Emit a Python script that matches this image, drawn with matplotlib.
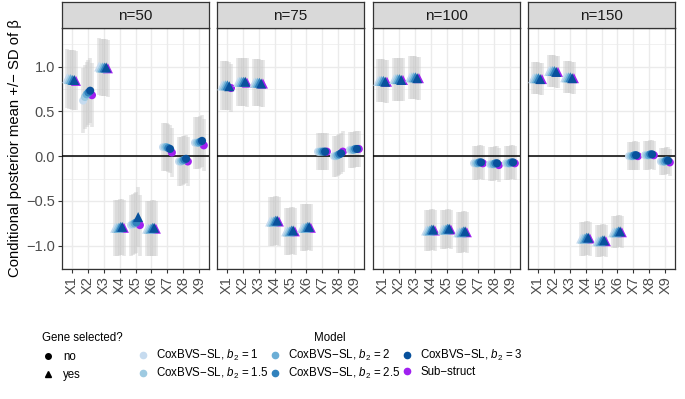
import matplotlib.pyplot as plt
import numpy as np
from matplotlib.lines import Line2D

plt.rcParams['font.family'] = ['Liberation Sans', 'DejaVu Sans']
plt.rcParams['mathtext.fontset'] = 'custom'
plt.rcParams['mathtext.rm'] = 'Liberation Sans'
plt.rcParams['mathtext.it'] = 'Liberation Sans:italic'

variables = ['X1', 'X2', 'X3', 'X4', 'X5', 'X6', 'X7', 'X8', 'X9']
sample_sizes = ['n=50', 'n=75', 'n=100', 'n=150']
models = ['CoxBVS\u2212SL, $b_2$ = 1', 'CoxBVS\u2212SL, $b_2$ = 1.5',
          'CoxBVS\u2212SL, $b_2$ = 2', 'CoxBVS\u2212SL, $b_2$ = 2.5',
          'CoxBVS\u2212SL, $b_2$ = 3', 'Sub\u2212struct']
model_colors = ['#c6dbef', '#9ecae1', '#6baed6', '#3182bd', '#08519c', '#a020f0']

# posterior means: rows = X1..X9, cols = models
mean_n50 = [
    [0.87, 0.86, 0.86, 0.85, 0.85, 0.84],
    [0.62, 0.66, 0.69, 0.71, 0.73, 0.68],
    [1.00, 0.99, 0.99, 0.99, 0.99, 0.98],
    [-0.80, -0.80, -0.80, -0.79, -0.79, -0.80],
    [-0.77, -0.76, -0.75, -0.74, -0.68, -0.77],
    [-0.81, -0.81, -0.81, -0.80, -0.80, -0.81],
    [0.10, 0.10, 0.10, 0.09, 0.08, 0.04],
    [-0.06, -0.06, -0.05, -0.04, -0.03, -0.06],
    [0.15, 0.15, 0.15, 0.16, 0.17, 0.12],
]
mean_n75 = [
    [0.79, 0.79, 0.79, 0.79, 0.78, 0.76],
    [0.83, 0.83, 0.83, 0.83, 0.83, 0.82],
    [0.82, 0.82, 0.82, 0.82, 0.81, 0.81],
    [-0.73, -0.73, -0.73, -0.72, -0.72, -0.73],
    [-0.84, -0.84, -0.84, -0.83, -0.83, -0.84],
    [-0.80, -0.80, -0.80, -0.79, -0.79, -0.80],
    [0.05, 0.05, 0.05, 0.05, 0.05, 0.05],
    [0.00, 0.00, 0.01, 0.02, 0.03, 0.05],
    [0.07, 0.07, 0.07, 0.08, 0.08, 0.08],
]
mean_n100 = [
    [0.84, 0.84, 0.84, 0.84, 0.83, 0.83],
    [0.86, 0.86, 0.86, 0.86, 0.85, 0.85],
    [0.88, 0.88, 0.88, 0.88, 0.87, 0.87],
    [-0.83, -0.83, -0.83, -0.82, -0.82, -0.83],
    [-0.82, -0.82, -0.82, -0.81, -0.81, -0.82],
    [-0.85, -0.85, -0.85, -0.84, -0.84, -0.85],
    [-0.08, -0.08, -0.08, -0.07, -0.07, -0.08],
    [-0.09, -0.09, -0.09, -0.08, -0.08, -0.10],
    [-0.08, -0.08, -0.08, -0.07, -0.07, -0.08],
]
mean_n150 = [
    [0.87, 0.87, 0.87, 0.87, 0.86, 0.86],
    [0.95, 0.95, 0.95, 0.95, 0.94, 0.94],
    [0.88, 0.88, 0.88, 0.88, 0.87, 0.87],
    [-0.92, -0.92, -0.92, -0.91, -0.91, -0.92],
    [-0.95, -0.95, -0.95, -0.94, -0.94, -0.95],
    [-0.85, -0.85, -0.85, -0.84, -0.84, -0.85],
    [0.00, 0.00, 0.00, 0.01, 0.01, 0.00],
    [0.01, 0.01, 0.01, 0.02, 0.02, 0.01],
    [-0.06, -0.06, -0.06, -0.05, -0.05, -0.07],
]

# posterior SD per variable
sd_n50 = [0.33, 0.36, 0.32, 0.31, 0.34, 0.31, 0.27, 0.27, 0.29]
sd_n75 = [0.27, 0.27, 0.26, 0.27, 0.26, 0.26, 0.21, 0.23, 0.20]
sd_n100 = [0.24, 0.24, 0.24, 0.23, 0.22, 0.23, 0.19, 0.19, 0.19]
sd_n150 = [0.18, 0.18, 0.18, 0.19, 0.18, 0.18, 0.16, 0.16, 0.15]

# gene selected? (1 = yes) per variable, per model
sel_n50 = ['111111', '000000', '111111', '111111', '000010', '111111', '000000', '000000', '000000']
sel_n75 = ['111110', '111111', '111111', '111111', '111111', '111111', '000000', '000000', '000000']
sel_n100 = ['111111', '111111', '111111', '111111', '111111', '111111', '000000', '000000', '000000']
sel_n150 = ['111111', '111111', '111111', '111111', '111111', '111111', '000000', '000000', '000000']

means = [mean_n50, mean_n75, mean_n100, mean_n150]
sds = [sd_n50, sd_n75, sd_n100, sd_n150]
sels = [sel_n50, sel_n75, sel_n100, sel_n150]

W, H = 685, 399
fig = plt.figure(figsize=(W / 100, H / 100), dpi=100)

panel_left = [62, 217, 373, 528]
panel_w = 147
top, bottom = 28, 269
x = np.arange(1, len(variables) + 1)
offsets = (np.arange(len(models)) - 2.5) * 0.11
# sub-struct points sit underneath the CoxBVS-SL ones
draw_z = [5, 6, 7, 8, 9, 4]

for p in range(4):
    ax = fig.add_axes([panel_left[p] / W, (H - bottom) / H, panel_w / W, (bottom - top) / H])
    m = np.array(means[p])
    sd = np.array(sds[p])
    for j in range(len(models)):
        xs = x + offsets[j]
        ax.vlines(xs, m[:, j] - sd, m[:, j] + sd, color='#c8c8c8', alpha=0.45,
                  lw=2.6, zorder=2)
    ax.axhline(0, color='black', lw=1.1, zorder=3)
    for j in range(len(models)):
        xs = x + offsets[j]
        sel = np.array([s[j] == '1' for s in sels[p]])
        ax.scatter(xs[~sel], m[~sel, j], marker='o', s=34, color=model_colors[j],
                   edgecolors='none', zorder=draw_z[j])
        ax.scatter(xs[sel], m[sel, j], marker='^', s=52, color=model_colors[j],
                   edgecolors='none', zorder=draw_z[j])

    ax.set_xlim(0.4, 9.6)
    ax.set_ylim(-1.26, 1.43)
    ax.set_xticks(x)
    ax.set_xticklabels(variables, rotation=90, fontsize=10.5, color='#4d4d4d')
    ax.set_yticks([-1.0, -0.5, 0.0, 0.5, 1.0])
    ax.set_yticks([-1.25, -0.75, -0.25, 0.25, 0.75, 1.25], minor=True)
    if p == 0:
        ax.set_yticklabels(['\u22121.0', '\u22120.5', '0.0', '0.5', '1.0'], fontsize=10.5, color='#4d4d4d')
        ax.set_ylabel('Conditional posterior mean +/\u2212 SD of \u03b2', fontsize=10.7, labelpad=3)
    else:
        ax.set_yticklabels([])
    ax.tick_params(axis='both', which='major', length=3, width=0.8, color='#333333', pad=2)
    ax.tick_params(axis='y', which='minor', length=0)
    if p > 0:
        ax.tick_params(axis='y', which='major', length=0)
    ax.grid(True, which='major', color='#ebebeb', lw=1.0, zorder=0)
    ax.grid(True, which='minor', axis='y', color='#ebebeb', lw=0.5, zorder=0)
    ax.set_axisbelow(True)
    for s in ax.spines.values():
        s.set_color('#333333')
        s.set_linewidth(0.9)

    strip = fig.add_axes([panel_left[p] / W, (H - top) / H, panel_w / W, 26 / H])
    strip.set_facecolor('#d9d9d9')
    strip.set_xticks([])
    strip.set_yticks([])
    for s in strip.spines.values():
        s.set_color('#333333')
        s.set_linewidth(0.9)
    strip.text(0.5, 0.45, sample_sizes[p], ha='center', va='center', fontsize=11,
               color='#1a1a1a', transform=strip.transAxes)

# legends
gene_handles = [Line2D([], [], marker='o', color='black', ls='none', markersize=4),
                Line2D([], [], marker='^', color='black', ls='none', markersize=4.5)]
leg1 = fig.legend(gene_handles, ['no', 'yes'], title='Gene selected?', loc='upper left',
                  bbox_to_anchor=(32 / W, 1 - 322 / H), frameon=False, fontsize=8.3,
                  title_fontsize=8.3, alignment='left', handlelength=1.0,
                  handletextpad=0.8, labelspacing=0.55)
model_handles = [Line2D([], [], marker='o', color=c, ls='none', markersize=4.5) for c in model_colors]
leg2 = fig.legend(model_handles, models, title='Model', loc='upper left',
                  bbox_to_anchor=(127 / W, 1 - 322 / H), frameon=False, fontsize=8.3,
                  title_fontsize=8.3, ncol=3, handlelength=1.0, handletextpad=0.6,
                  columnspacing=0.1, labelspacing=0.3)

fig.savefig('out.png', dpi=100)
